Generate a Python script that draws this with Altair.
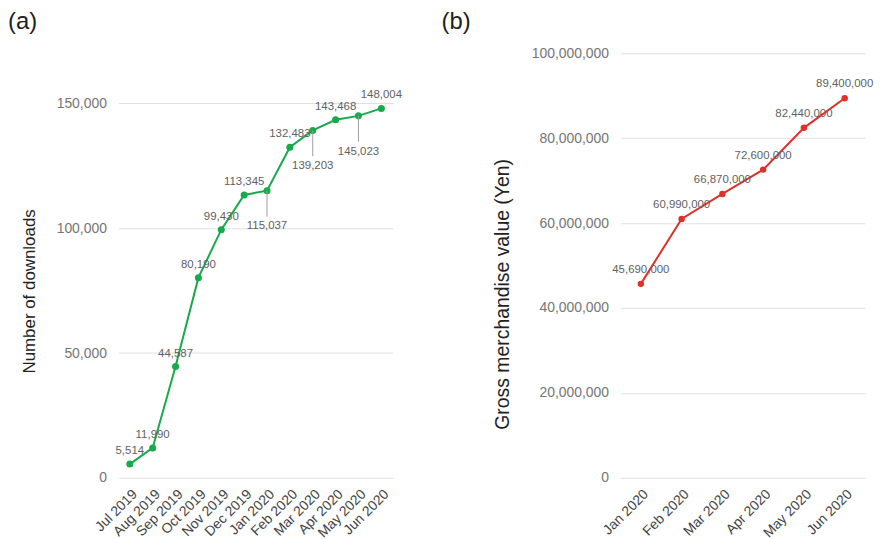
import altair as alt
import pandas as pd

# ---- data ----
months_a = ["Jul 2019", "Aug 2019", "Sep 2019", "Oct 2019", "Nov 2019", "Dec 2019",
            "Jan 2020", "Feb 2020", "Mar 2020", "Apr 2020", "May 2020", "Jun 2020"]
downloads = [5514, 11990, 44587, 80190, 99430, 113345,
             115037, 132483, 139203, 143468, 145023, 148004]
label_side_a = ["above", "above", "above", "above", "above", "above",
                "below", "above", "below", "above", "below", "above"]

months_b = ["Jan 2020", "Feb 2020", "Mar 2020", "Apr 2020", "May 2020", "Jun 2020"]
gmv = [45690000, 60990000, 66870000, 72600000, 82440000, 89400000]

ticks_a = [0, 50000, 100000, 150000]
ticks_b = [0, 20000000, 40000000, 60000000, 80000000, 100000000]

FONT = "Liberation Sans"
GREEN = "#17aa4a"
RED = "#e0302a"
LABEL_C = "#616161"
GRID_C = "#e0e0e0"

df_a = pd.DataFrame({"month": months_a, "value": downloads, "side": label_side_a})
df_b = pd.DataFrame({"month": months_b, "value": gmv})


def x_enc(order):
    return alt.X("month:N", sort=order,
                 scale=alt.Scale(type="point", padding=0.5),
                 axis=alt.Axis(title=None, labelAngle=-45, labelFontSize=14,
                               labelColor="#444444", domain=False, ticks=False,
                               labelPadding=9, grid=False, labelFont=FONT))


def y_enc(domain, values, title, tfs, tx, ty):
    return alt.Y("value:Q", scale=alt.Scale(domain=domain, nice=False, zero=True),
                 axis=alt.Axis(values=values, format=",.0f", title=title,
                               titleFontSize=tfs, titleFontWeight="normal",
                               titleColor="#222222", titleFont=FONT,
                               titleAngle=270, titleBaseline="middle",
                               titleX=tx, titleY=ty,
                               labelFontSize=14, labelColor="#757575", labelFont=FONT,
                               labelPadding=12, domain=False, ticks=False,
                               grid=True, gridColor=GRID_C, gridWidth=1))


# ---- panel (a) ----
base_a = alt.Chart(df_a).encode(
    x=x_enc(months_a),
    y=y_enc([0, 170100], ticks_a, "Number of downloads", 17, -89, 239),
)
line_a = base_a.mark_line(color=GREEN, strokeWidth=2)
pts_a = base_a.mark_circle(color=GREEN, size=50, opacity=1)
lab_above_a = base_a.transform_filter(alt.datum.side == "above").mark_text(
    dy=-13, fontSize=11.5, color=LABEL_C, font=FONT, baseline="middle"
).encode(text=alt.Text("value:Q", format=","))
leader_a = base_a.transform_filter(alt.datum.side == "below").mark_rule(
    color="#9e9e9e", strokeWidth=1, y2Offset=26
).encode(y2="value:Q")
lab_below_a = base_a.transform_filter(alt.datum.side == "below").mark_text(
    dy=36, fontSize=11.5, color=LABEL_C, font=FONT, baseline="middle"
).encode(text=alt.Text("value:Q", format=","))
tag_a = alt.Chart(pd.DataFrame({"t": ["(a)"]})).mark_text(
    align="left", baseline="top", fontSize=24, color="#222222", font=FONT
).encode(text="t:N", x=alt.value(-111), y=alt.value(-43))

panel_a = alt.layer(line_a, pts_a, leader_a, lab_above_a, lab_below_a, tag_a).properties(
    width=276, height=427)

# ---- panel (b) ----
base_b = alt.Chart(df_b).encode(
    x=x_enc(months_b),
    y=y_enc([0, 100000000], ticks_b, "Gross merchandise value (Yen)", 19.5, -119, 242),
)
line_b = base_b.mark_line(color=RED, strokeWidth=2)
pts_b = base_b.mark_circle(color=RED, size=42, opacity=1)
lab_b = base_b.mark_text(
    dy=-14, fontSize=11.5, color=LABEL_C, font=FONT, baseline="middle"
).encode(text=alt.Text("value:Q", format=","))
tag_b = alt.Chart(pd.DataFrame({"t": ["(b)"]})).mark_text(
    align="left", baseline="top", fontSize=24, color="#222222", font=FONT
).encode(text="t:N", x=alt.value(-180), y=alt.value(-43))

panel_b = alt.layer(line_b, pts_b, lab_b, tag_b).properties(width=246, height=427)

chart = alt.hconcat(panel_a, panel_b, spacing=229, bounds="flush").resolve_scale(
    x="independent", y="independent"
).properties(padding={"top": 1, "left": 0, "right": 0, "bottom": 0}).configure_view(stroke=None)

chart.save("out.html", embed_options={"renderer": "svg", "actions": False})
